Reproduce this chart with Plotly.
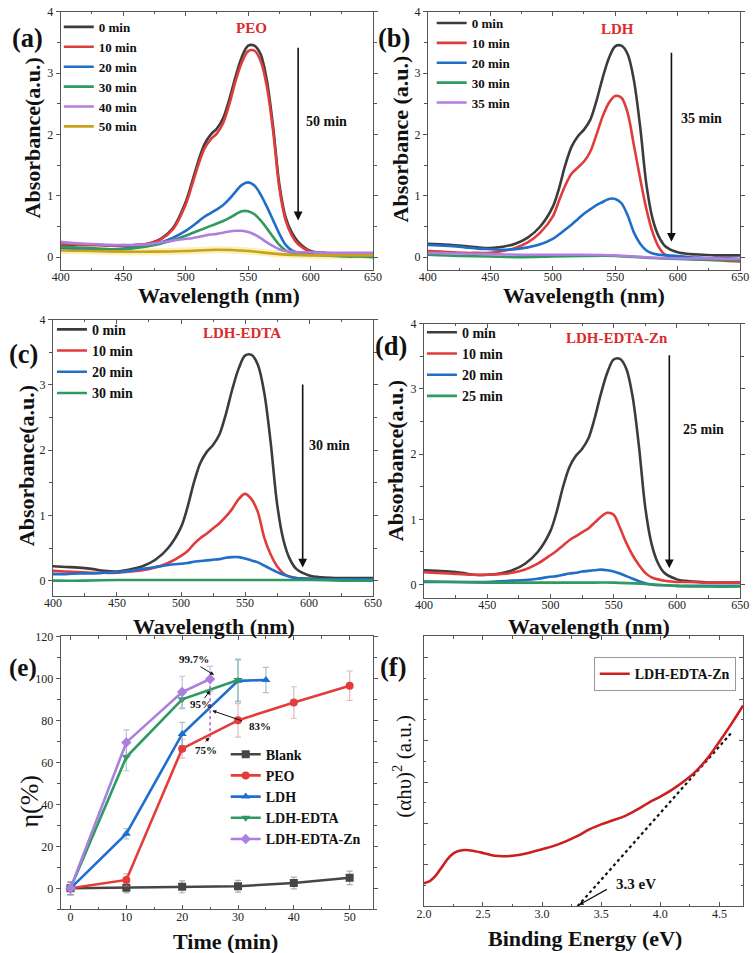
import plotly.graph_objects as go

W, H = 756, 953
FONT = "Liberation Serif"

# ---------------- data ----------------
WL = [400, 410, 420, 430, 440, 450, 460, 470, 480, 490, 500, 505, 510, 515, 520, 525, 530, 535,
      540, 545, 550, 555, 560, 565, 570, 575, 580, 585, 590, 600, 610, 620, 630, 640, 650]
WL_C = [400, 425, 450, 475, 500, 525, 550, 575, 600, 625, 650]

# (a) PEO
PEO_0 = [0.20, 0.20, 0.20, 0.20, 0.19, 0.19, 0.20, 0.22, 0.30, 0.48, 0.90, 1.22, 1.56, 1.84, 2.00, 2.10, 2.27, 2.58,
         2.95, 3.27, 3.45, 3.45, 3.31, 2.88, 2.12, 1.18, 0.65, 0.40, 0.25, 0.10, 0.07, 0.06, 0.05, 0.05, 0.05]
PEO_10 = [0.21, 0.21, 0.20, 0.20, 0.19, 0.19, 0.20, 0.22, 0.29, 0.46, 0.86, 1.17, 1.50, 1.77, 1.92, 2.02, 2.19, 2.50,
          2.88, 3.18, 3.36, 3.37, 3.20, 2.78, 2.05, 1.12, 0.60, 0.35, 0.21, 0.09, 0.07, 0.06, 0.05, 0.05, 0.05]
PEO_20 = [0.15, 0.14, 0.14, 0.13, 0.13, 0.14, 0.16, 0.19, 0.24, 0.32, 0.43, 0.50, 0.58, 0.66, 0.72, 0.78, 0.85, 0.95,
          1.07, 1.18, 1.22, 1.17, 1.02, 0.82, 0.60, 0.38, 0.20, 0.11, 0.07, 0.05, 0.04, 0.03, 0.02, 0.02, 0.02]
PEO_30 = [0.17, 0.16, 0.15, 0.14, 0.13, 0.13, 0.15, 0.18, 0.22, 0.28, 0.35, 0.39, 0.43, 0.47, 0.51, 0.55, 0.59, 0.64,
          0.70, 0.75, 0.75, 0.70, 0.60, 0.47, 0.33, 0.20, 0.11, 0.07, 0.05, 0.04, 0.03, 0.02, 0.01, 0.01, 0.00]
PEO_40 = [0.25, 0.23, 0.22, 0.21, 0.20, 0.20, 0.20, 0.21, 0.24, 0.27, 0.30, 0.31, 0.33, 0.35, 0.37, 0.38, 0.40, 0.42,
          0.43, 0.43, 0.41, 0.37, 0.31, 0.24, 0.18, 0.13, 0.10, 0.09, 0.08, 0.08, 0.07, 0.07, 0.07, 0.07, 0.07]
PEO_50 = [0.11, 0.10, 0.09, 0.09, 0.10, 0.12, 0.10, 0.05, 0.03, 0.03, 0.03]

# (b) LDH
LDH_0 = [0.22, 0.21, 0.20, 0.18, 0.16, 0.15, 0.17, 0.22, 0.32, 0.50, 0.82, 1.12, 1.50, 1.80, 1.97, 2.08, 2.24, 2.55,
         2.93, 3.25, 3.44, 3.45, 3.31, 2.88, 2.12, 1.18, 0.62, 0.33, 0.18, 0.08, 0.05, 0.04, 0.03, 0.03, 0.03]
LDH_10 = [0.10, 0.09, 0.08, 0.07, 0.07, 0.07, 0.10, 0.15, 0.24, 0.40, 0.66, 0.92, 1.17, 1.36, 1.46, 1.56, 1.72, 2.00,
          2.30, 2.52, 2.63, 2.60, 2.35, 1.82, 1.28, 0.78, 0.40, 0.16, 0.04, -0.01, -0.03, -0.04, -0.05, -0.06, -0.07]
LDH_20 = [0.20, 0.19, 0.18, 0.16, 0.14, 0.13, 0.12, 0.13, 0.16, 0.21, 0.30, 0.37, 0.45, 0.53, 0.62, 0.71, 0.78, 0.85,
          0.90, 0.95, 0.95, 0.88, 0.68, 0.40, 0.22, 0.11, 0.06, 0.04, 0.03, 0.02, 0.00, -0.01, -0.02, -0.02, -0.03]
LDH_30 = [0.04, 0.02, 0.01, 0.00, 0.01, 0.02, 0.02, -0.01, -0.03, -0.04, -0.05]
LDH_35 = [0.07, 0.06, 0.05, 0.04, 0.04, 0.04, 0.03, 0.00, -0.02, -0.02, -0.03]

# (c) LDH-EDTA
EDTA_0 = [0.22, 0.21, 0.20, 0.18, 0.15, 0.14, 0.17, 0.22, 0.32, 0.50, 0.82, 1.12, 1.50, 1.80, 1.97, 2.08, 2.24, 2.55,
          2.93, 3.25, 3.45, 3.46, 3.31, 2.88, 2.12, 1.18, 0.62, 0.33, 0.18, 0.08, 0.05, 0.04, 0.04, 0.04, 0.04]
EDTA_10 = [0.15, 0.14, 0.13, 0.12, 0.12, 0.12, 0.14, 0.16, 0.20, 0.27, 0.38, 0.45, 0.56, 0.65, 0.72, 0.80, 0.88, 0.98,
           1.10, 1.25, 1.33, 1.25, 1.05, 0.66, 0.40, 0.22, 0.11, 0.06, 0.04, 0.03, 0.02, 0.02, 0.02, 0.02, 0.02]
EDTA_20 = [0.10, 0.10, 0.11, 0.11, 0.12, 0.13, 0.15, 0.18, 0.21, 0.24, 0.26, 0.27, 0.29, 0.30, 0.31, 0.32, 0.33, 0.35,
           0.36, 0.36, 0.34, 0.31, 0.28, 0.23, 0.18, 0.13, 0.09, 0.06, 0.04, 0.03, 0.02, 0.02, 0.02, 0.02, 0.02]
EDTA_30 = [0.00, 0.00, 0.01, 0.01, 0.01, 0.01, 0.01, 0.01, 0.01, 0.00, 0.00]

# (d) LDH-EDTA-Zn
ZN_0 = [0.22, 0.21, 0.20, 0.18, 0.15, 0.15, 0.17, 0.22, 0.32, 0.50, 0.82, 1.12, 1.50, 1.80, 1.97, 2.08, 2.24, 2.55,
        2.93, 3.25, 3.45, 3.46, 3.31, 2.88, 2.12, 1.18, 0.62, 0.33, 0.18, 0.08, 0.05, 0.04, 0.03, 0.03, 0.03]
ZN_10 = [0.19, 0.18, 0.17, 0.16, 0.15, 0.15, 0.16, 0.18, 0.23, 0.32, 0.45, 0.52, 0.60, 0.68, 0.74, 0.80, 0.86, 0.95,
         1.04, 1.10, 1.07, 0.87, 0.64, 0.45, 0.30, 0.18, 0.11, 0.08, 0.06, 0.04, 0.04, 0.03, 0.03, 0.03, 0.03]
ZN_20 = [0.04, 0.04, 0.04, 0.04, 0.04, 0.04, 0.05, 0.06, 0.07, 0.09, 0.12, 0.13, 0.15, 0.17, 0.18, 0.20, 0.21, 0.22,
         0.23, 0.22, 0.20, 0.17, 0.13, 0.09, 0.05, 0.02, 0.00, -0.01, -0.01, -0.02, -0.02, -0.02, -0.02, -0.02, -0.02]
ZN_25 = [0.05, 0.04, 0.03, 0.03, 0.03, 0.03, 0.03, 0.01, -0.02, -0.03, -0.03]

# (e) degradation efficiency
T_BLANK = [0, 10, 20, 30, 40, 50]
ETA_BLANK = [0, 0.3, 0.7, 1.0, 2.5, 5.0]
ERR_BLANK = [3, 2.5, 2.8, 2.8, 2.8, 3.2]
T_PEO = [0, 10, 20, 30, 40, 50]
ETA_PEO = [0, 4, 66.5, 80, 88.5, 96.5]
ERR_PEO = [3, 3, 4.5, 8, 7.5, 7]
T_LDH = [0, 10, 20, 30, 35]
ETA_LDH = [0, 26, 73.5, 98.8, 99.2]
ERR_LDH = [3, 2.5, 5.5, 10, 6]
T_EDTA = [0, 10, 20, 30]
ETA_EDTA = [0, 62.5, 90, 99.2]
ERR_EDTA = [3, 6.5, 4.5, 10]
T_ZN = [0, 10, 20, 25]
ETA_ZN = [0, 69.5, 93.5, 99.7]
ERR_ZN = [3, 6, 7.5, 6]
MARK_T = [25, 25]
MARK_ETA = [72, 99.7]

# (f) Tauc plot
E_F = [2.0, 2.05, 2.1, 2.15, 2.2, 2.25, 2.3, 2.35, 2.4, 2.5, 2.6, 2.7, 2.8, 2.9, 3.0, 3.1, 3.2, 3.3, 3.4,
       3.5, 3.6, 3.7, 3.8, 3.9, 4.0, 4.1, 4.2, 4.3, 4.4, 4.5, 4.6, 4.7]
AH_F = [0.56, 0.61, 0.74, 0.94, 1.14, 1.28, 1.34, 1.36, 1.35, 1.29, 1.22, 1.21, 1.24, 1.30, 1.38, 1.46, 1.57,
        1.70, 1.86, 1.98, 2.08, 2.18, 2.33, 2.50, 2.65, 2.82, 3.02, 3.26, 3.58, 3.98, 4.40, 4.85]
TAN_E = [3.3, 4.61]
TAN_Y = [0.0, 4.22]

# ---------------- styling ----------------
BLACK = '#3c3c3c'
RED = '#e03c3c'
BLUE = '#1f6ec8'
GREEN = '#2f9a60'
PURPLE = '#b07ee0'
GOLD = '#c9a11a'
TRED = '#d92b2b'


def px(x):
    return x / W


def py(y):
    return 1 - y / H


fig = go.Figure()


def spec(x, y, name, color, ax, legend, show=True, width=2.6):
    fig.add_trace(go.Scatter(x=x, y=y, name=name, mode='lines',
                             line=dict(color=color, width=width, shape='spline', smoothing=0.9),
                             xaxis='x' + ax, yaxis='y' + ax, legend=legend, showlegend=show))


# (a)
spec(WL_C, PEO_50, '', '#faf0b8', '', 'legend', show=False, width=7)
for y, n, c in [(PEO_0, '0 min', BLACK), (PEO_10, '10 min', RED), (PEO_20, '20 min', BLUE),
                (PEO_30, '30 min', GREEN), (PEO_40, '40 min', PURPLE)]:
    spec(WL, y, n, c, '', 'legend')
spec(WL_C, PEO_50, '50 min', GOLD, '', 'legend')
# (b)
for y, n, c in [(LDH_0, '0 min', BLACK), (LDH_10, '10 min', RED), (LDH_20, '20 min', BLUE)]:
    spec(WL, y, n, c, '2', 'legend2')
spec(WL_C, LDH_30, '30 min', GREEN, '2', 'legend2')
spec(WL_C, LDH_35, '35 min', PURPLE, '2', 'legend2')
# (c)
for y, n, c in [(EDTA_0, '0 min', BLACK), (EDTA_10, '10 min', RED), (EDTA_20, '20 min', BLUE)]:
    spec(WL, y, n, c, '3', 'legend3')
spec(WL_C, EDTA_30, '30 min', GREEN, '3', 'legend3')
# (d)
for y, n, c in [(ZN_0, '0 min', BLACK), (ZN_10, '10 min', RED), (ZN_20, '20 min', BLUE)]:
    spec(WL, y, n, c, '4', 'legend4')
spec(WL_C, ZN_25, '25 min', GREEN, '4', 'legend4')

# (e)
fig.add_trace(go.Scatter(x=MARK_T, y=MARK_ETA, mode='lines', line=dict(color='#b05ad0', width=1.5, dash='dot'),
                         xaxis='x5', yaxis='y5', showlegend=False))
for t, e, err, n, c, sym, ec in [
    (T_BLANK, ETA_BLANK, ERR_BLANK, 'Blank', '#464646', 'square', 'rgba(120,120,120,0.6)'),
    (T_PEO, ETA_PEO, ERR_PEO, 'PEO', '#e63b3b', 'circle', 'rgba(200,130,140,0.55)'),
    (T_LDH, ETA_LDH, ERR_LDH, 'LDH', '#1f6fd0', 'triangle-up', 'rgba(100,140,160,0.55)'),
    (T_EDTA, ETA_EDTA, ERR_EDTA, 'LDH-EDTA', '#2e9a62', 'triangle-down', 'rgba(100,170,170,0.55)'),
    (T_ZN, ETA_ZN, ERR_ZN, 'LDH-EDTA-Zn', '#a97fe0', 'diamond', 'rgba(170,140,200,0.6)')]:
    fig.add_trace(go.Scatter(x=t, y=e, name=n, mode='lines+markers',
                             line=dict(color=c, width=2.6), marker=dict(symbol=sym, size=8, color=c),
                             error_y=dict(type='data', array=err, color=ec, thickness=1.2, width=3),
                             xaxis='x5', yaxis='y5', legend='legend5'))

# (f)
fig.add_trace(go.Scatter(x=TAN_E, y=TAN_Y, mode='lines', line=dict(color='#111', width=2.2, dash='dot'),
                         xaxis='x6', yaxis='y6', showlegend=False))
fig.add_trace(go.Scatter(x=E_F, y=AH_F, name='LDH-EDTA-Zn', mode='lines',
                         line=dict(color='#cc1f1f', width=2.6, shape='spline', smoothing=0.9),
                         xaxis='x6', yaxis='y6', legend='legend6'))

# ---------------- axes ----------------
TICKFONT = dict(family=FONT, size=12, color='#222')


def xax(dom, rng, dtick, minor, anchor, fmt=None):
    d = dict(domain=[px(dom[0]), px(dom[1])], range=rng, dtick=dtick, anchor=anchor,
             showline=True, linecolor='#555', linewidth=1, mirror='ticks',
             ticks='inside', ticklen=4, tickcolor='#555', tickfont=TICKFONT, ticklabelstandoff=-4,
             minor=dict(dtick=minor, ticks='inside', ticklen=2.5, tickcolor='#555'),
             showgrid=False, zeroline=False)
    if fmt:
        d['tickformat'] = fmt
    return d


def yax(dom, rng, dtick, minor, anchor, labels=True, ticks='outside'):
    return dict(domain=[py(dom[1]), py(dom[0])], range=rng, dtick=dtick, anchor=anchor,
                showline=True, linecolor='#555', linewidth=1, mirror='ticks',
                ticks=ticks, ticklen=4, tickcolor='#555', tickfont=TICKFONT,
                showticklabels=labels,
                minor=dict(dtick=minor, ticks=ticks, ticklen=2.5, tickcolor='#555'),
                showgrid=False, zeroline=False)


fig.update_layout(
    xaxis=xax([53, 373], [400, 650], 50, 25, 'y'),
    yaxis=yax([5, 265], [-0.21, 4], 1, 0.5, 'x'),
    xaxis2=xax([429, 749], [400, 650], 50, 25, 'y2'),
    yaxis2=yax([5, 265], [-0.21, 4], 1, 0.5, 'x2'),
    xaxis3=xax([45, 373], [400, 650], 50, 25, 'y3'),
    yaxis3=yax([315, 593], [-0.23, 4], 1, 0.5, 'x3'),
    xaxis4=xax([425, 749], [400, 650], 50, 25, 'y4'),
    yaxis4=yax([319, 595], [-0.2, 4], 1, 0.5, 'x4'),
    xaxis5=xax([53, 373], [-1.75, 54.2], 10, 5, 'y5'),
    yaxis5=yax([634, 909], [-10, 120], 20, 10, 'x5'),
    xaxis6=xax([425, 752], [2.0, 4.7], 0.5, 0.25, 'y6', fmt='.1f'),
    yaxis6=yax([634, 906], [0, 6.52], 1, 0.5, 'x6', labels=False, ticks='inside'),
)

LEGFONT13 = dict(family=FONT, size=13, color='#111', weight='bold')
LEGFONT14 = dict(family=FONT, size=14, color='#111', weight='bold')
leg_common = dict(bgcolor='rgba(0,0,0,0)', xanchor='left', yanchor='top', tracegroupgap=0)
fig.update_layout(
    legend=dict(x=px(51), y=py(5), font=LEGFONT13, **leg_common),
    legend2=dict(x=px(433), y=py(1), font=LEGFONT13, **leg_common),
    legend3=dict(x=px(44), y=py(309), font=LEGFONT14, **leg_common),
    legend4=dict(x=px(423), y=py(312), font=LEGFONT14, **leg_common),
    legend5=dict(x=px(222), y=py(737), font=LEGFONT14, **leg_common),
    legend6=dict(x=px(599), y=py(655), font=LEGFONT14, bgcolor='white', bordercolor='#999', borderwidth=1,
                 xanchor='left', yanchor='top'),
)

# ---------------- annotations ----------------
ann = []


def text(x, y, s, size, bold=True, color='#111', angle=0, xanchor='center', yanchor='middle', xref='paper',
         yref='paper'):
    ann.append(dict(x=x, y=y, xref=xref, yref=yref, text=s, showarrow=False, textangle=angle,
                    xanchor=xanchor, yanchor=yanchor,
                    font=dict(family=FONT, size=size, color=color, weight='bold' if bold else 'normal')))


# panel letters
for s, x, y, sz in [('(a)', 19, 31, 26.5), ('(b)', 394, 31, 26.5), ('(c)', 15, 350, 26.5),
                    ('(d)', 391, 342, 26.5), ('(e)', 14, 666, 25), ('(f)', 393, 665, 26.5)]:
    text(px(x), py(y), s, sz)
# sample titles
for s, x, y in [('PEO', 248, 21), ('LDH', 623, 22), ('LDH-EDTA', 239, 328), ('LDH-EDTA-Zn', 623, 333)]:
    text(px(x), py(y), s, 15, color=TRED)
# axis titles
for x, y in [(215, 291), (589, 291), (210, 624), (594, 624)]:
    text(px(x), py(y), 'Wavelength (nm)', 22)
for s, x, y in [('Absorbance(a.u.)', 24, 132), ('Absorbance (a.u.)', 401, 133), ('Absorbance(a.u.)', 18, 462),
                ('Absorbance(a.u.)', 396, 457)]:
    text(px(x), py(y), s, 22, angle=-90)
text(px(222), py(941), 'Time (min)', 22)
text(px(590), py(938), 'Binding Energy (eV)', 22)
text(px(21), py(800), 'η(%)', 26, bold=False, angle=-90)
text(px(403), py(765), '(αhυ)<sup>2</sup> (a.u.)', 21, bold=False, angle=-90)

# time arrows in spectra panels
for axn, xa, y0, y1, lab, tx, ty in [('', 590, 3.44, 0.6, '50 min', 594.5, 2.22),
                                     ('2', 595, 3.36, 0.25, '35 min', 600.8, 2.27),
                                     ('3', 595, 3.03, 0.2, '30 min', 598.2, 2.07),
                                     ('4', 594, 3.54, 0.25, '25 min', 602.9, 2.37)]:
    ann.append(dict(x=xa, y=y1, ax=xa, ay=y0, xref='x' + axn, yref='y' + axn, axref='x' + axn, ayref='y' + axn,
                    showarrow=True, arrowhead=2, arrowsize=1.1, arrowwidth=1.6, arrowcolor='#111', text=''))
    text(tx, ty, lab, 14, xanchor='left', xref='x' + axn, yref='y' + axn)

# (e) percentage call-outs
for lab, tx, ty, x0, y0, x1, y1 in [('99.7%', 22.2, 109.4, 23.0, 106, 25.7, 101.6),
                                    ('95%', 23.3, 87.7, 23.8, 89.8, 25.0, 94.2),
                                    ('83%', 33.9, 77.2, 31.0, 79.5, 25.4, 84.6),
                                    ('75%', 24.2, 65.7, 23.9, 69.3, 24.9, 71.8)]:
    text(tx, ty, lab, 11, xref='x5', yref='y5')
    ann.append(dict(x=x1, y=y1, ax=x0, ay=y0, xref='x5', yref='y5', axref='x5', ayref='y5', text='',
                    showarrow=True, arrowhead=2, arrowsize=0.8, arrowwidth=1, arrowcolor='#111'))

# (f) band gap call-out
text(3.79, 0.55, '3.3 eV', 15, xref='x6', yref='y6')
ann.append(dict(x=3.31, y=0.03, ax=3.56, ay=0.43, xref='x6', yref='y6', axref='x6', ayref='y6', text='',
                showarrow=True, arrowhead=2, arrowsize=0.8, arrowwidth=1.2, arrowcolor='#111'))

fig.update_layout(annotations=ann, width=W, height=H, margin=dict(l=0, r=0, t=0, b=0),
                  paper_bgcolor='white', plot_bgcolor='white', showlegend=True,
                  font=dict(family=FONT, color='#111'))

fig.write_html("out.html", config={'displayModeBar': False},
               post_script="document.body.style.margin='0';document.body.style.overflow='hidden';")
